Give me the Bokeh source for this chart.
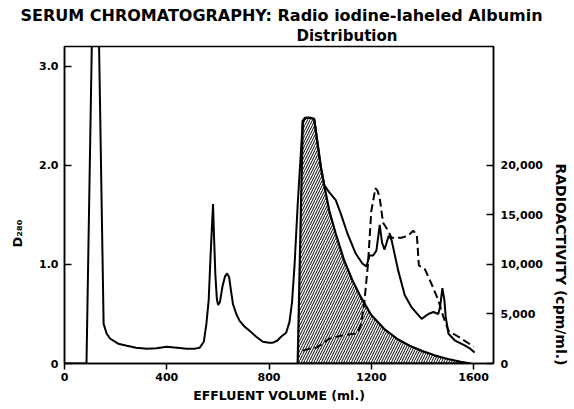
from bokeh.plotting import figure
from bokeh.models import Range1d, LinearAxis, FixedTicker, Title
from bokeh.embed import file_html
from bokeh.resources import INLINE

# ---------------- data ----------------
# D280 absorbance (solid curve)
d280_volume = [0, 86, 108, 134, 153, 165, 179, 210, 244, 280, 322, 360, 400, 440, 478,
               510, 529, 545, 555, 564, 571, 578, 581, 584, 590, 596, 601, 608, 618, 628,
               636, 644, 652, 659, 672, 685, 705, 724, 750, 776, 800, 815, 832, 847, 867,
               880, 890, 900, 912, 925, 932, 940, 960, 977, 990, 1003, 1016, 1035, 1061,
               1081, 1107, 1139, 1165, 1181, 1193, 1207, 1220, 1233, 1242, 1252, 1268, 1279,
               1305, 1331, 1357, 1397, 1423, 1443, 1462, 1469, 1478, 1486, 1491, 1502, 1528,
               1567, 1587, 1604]
d280_value = [0, 0, 3.4, 3.4, 0.40, 0.30, 0.25, 0.20, 0.18, 0.16, 0.15, 0.155, 0.17, 0.16, 0.15,
              0.15, 0.16, 0.22, 0.40, 0.64, 1.07, 1.45, 1.61, 1.35, 0.90, 0.65, 0.59, 0.62, 0.78, 0.88,
              0.91, 0.87, 0.72, 0.60, 0.50, 0.43, 0.37, 0.33, 0.27, 0.22, 0.21, 0.21, 0.23, 0.27, 0.31,
              0.42, 0.62, 1.0, 1.6, 2.15, 2.45, 2.48, 2.48, 2.47, 2.22, 1.98, 1.80, 1.73, 1.65,
              1.51, 1.31, 1.11, 1.01, 0.98, 1.09, 1.09, 1.14, 1.40, 1.22, 1.15, 1.29, 1.25,
              0.94, 0.69, 0.57, 0.45, 0.50, 0.52, 0.50, 0.57, 0.76, 0.64, 0.47, 0.30, 0.23,
              0.18, 0.15, 0.11]

# radioiodine-labeled albumin (hatched area), cpm/ml
albumin_volume = [912, 922, 932, 945, 965, 977, 990, 1003, 1016, 1035, 1061, 1094, 1126, 1159,
                  1200, 1250, 1300, 1350, 1400, 1450, 1500, 1550, 1590]
albumin_cpm = [0, 12300, 24500, 24800, 24800, 24600, 22200, 19800, 18000, 15500, 13100, 10400,
               8400, 6700, 4900, 3500, 2500, 1800, 1250, 800, 450, 180, 0]

# radioactivity (dashed curve), cpm/ml
radio_volume = [932, 960, 984, 1010, 1035, 1080, 1133, 1150, 1160, 1172, 1187, 1200, 1208, 1216,
                1225, 1233, 1246, 1266, 1279, 1300, 1318, 1344, 1364, 1378, 1382, 1386, 1410,
                1436, 1462, 1482, 1502, 1541, 1600]
radio_cpm = [1300, 1500, 1600, 2000, 2500, 2800, 3000, 3300, 4000, 6000, 10000, 15400, 16500, 17700,
             17400, 16700, 14200, 13400, 12700, 12700, 12700, 12900, 13400, 13000, 11500, 9900, 9500,
             8000, 6400, 4700, 3300, 2700, 1700]

x_ticks = [0, 400, 800, 1200, 1600]
x_tick_labels = ["0", "400", "800", "1200", "1600"]
d_ticks = [0, 1, 2, 3]
d_tick_labels = ["0", "1.0", "2.0", "3.0"]
cpm_ticks = [0, 5000, 10000, 15000, 20000]
cpm_tick_labels = ["0", "5,000", "10,000", "15,000", "20,000"]

title_line1 = "SERUM CHROMATOGRAPHY: Radio iodine-laheled Albumin"
title_line2 = "Distribution"
x_label = "EFFLUENT VOLUME (ml.)"
y_label = "D\u2082\u2088\u2080"
y2_label = "RADIOACTIVITY (cpm/ml.)"

FONT = "DejaVu Sans"

# ---------------- figure ----------------
p = figure(width=574, height=409, output_backend="svg", toolbar_location=None,
           title=None,
           x_range=Range1d(0, 1678), y_range=Range1d(0, 3.2),
           min_border_left=64, min_border_right=79, min_border_top=46, min_border_bottom=46)
p.extra_y_ranges = {"cpm": Range1d(0, 32000)}
p.xgrid.visible = False
p.ygrid.visible = False
p.outline_line_color = "black"
p.outline_line_width = 1.5
p.background_fill_color = "white"
p.border_fill_color = "white"

def style_axis(ax, ticks, labels):
    ax.ticker = FixedTicker(ticks=ticks)
    ax.major_label_overrides = {t: l for t, l in zip(ticks, labels)}
    ax.axis_line_color = "black"
    ax.axis_line_width = 1.5
    ax.major_tick_line_color = "black"
    ax.major_tick_line_width = 1.5
    ax.minor_tick_line_color = None
    ax.major_label_text_font = FONT
    ax.major_label_text_font_style = "bold"
    ax.major_label_text_font_size = "11px"
    ax.major_label_text_color = "black"

xa = p.xaxis[0]
style_axis(xa, x_ticks, x_tick_labels)
xa.major_tick_in = 0
xa.major_tick_out = 6
xa.major_label_standoff = 3
xa.axis_label = x_label
xa.axis_label_text_font = FONT
xa.axis_label_text_font_style = "bold"
xa.axis_label_text_font_size = "12.5px"
xa.axis_label_text_color = "black"
xa.axis_label_standoff = 4

ya = p.yaxis[0]
style_axis(ya, d_ticks, d_tick_labels)
ya.major_tick_in = 7
ya.major_tick_out = 0
ya.major_label_standoff = 6

ya2 = LinearAxis(y_range_name="cpm")
style_axis(ya2, cpm_ticks, cpm_tick_labels)
ya2.major_tick_in = 7
ya2.major_tick_out = 0
ya2.major_label_standoff = 7
p.add_layout(ya2, "right")

# ---------------- side texts ----------------
def make_title(text, size, align, offset, standoff, valign="bottom"):
    return Title(text=text, text_font=FONT, text_font_style="bold", text_font_size=size,
                 text_color="black", align=align, offset=offset, standoff=standoff,
                 vertical_align=valign)

p.add_layout(make_title(title_line2, "15px", "left", 232, 1, "middle"), "above")
p.add_layout(make_title(title_line1, "16px", "left", -44, 1), "above")
p.add_layout(make_title(y_label, "13px", "left", 116, 19, "top"), "left")
p.add_layout(make_title(y2_label, "14px", "left", 117, 11, "top"), "right")

# ---------------- marks ----------------
p.patch(albumin_volume, albumin_cpm, y_range_name="cpm",
        fill_color=None, hatch_pattern="/", hatch_color="black",
        hatch_scale=5, hatch_weight=1,
        line_color="black", line_width=2.2)
p.line(d280_volume, d280_value, line_color="black", line_width=2)
p.line(radio_volume, radio_cpm, y_range_name="cpm", line_color="black",
       line_width=2, line_dash="8 4")

open("out.html", "w").write(file_html(p, INLINE))
